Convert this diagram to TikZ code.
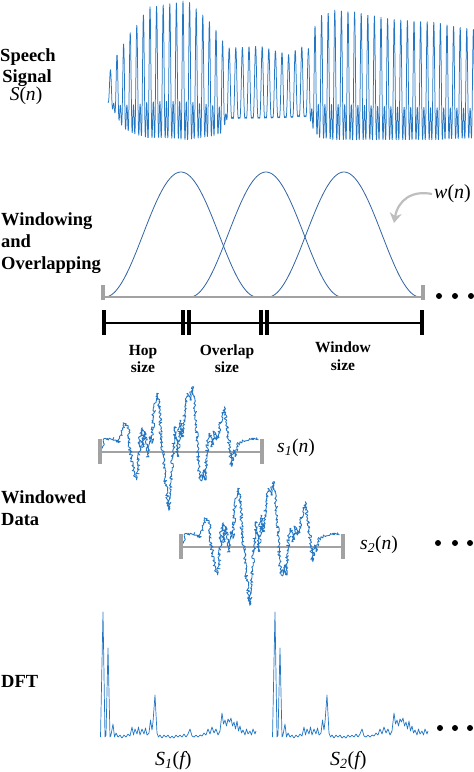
\documentclass[tikz,border=0pt]{standalone}
\usepackage{fontspec}
\setmainfont{Liberation Serif}
\usetikzlibrary{arrows.meta,decorations.pathmorphing}
\definecolor{sigblue}{RGB}{34,118,196}
\definecolor{winblue}{RGB}{50,100,165}
\definecolor{rulegray}{RGB}{162,162,162}
\definecolor{arrgray}{RGB}{190,190,190}
\tikzset{
  lab/.style={font=\bfseries\fontsize{18.5}{22}\selectfont, anchor=base west, inner sep=0pt},
  sublab/.style={font=\bfseries\fontsize{15.5}{18}\selectfont, anchor=base, inner sep=0pt},
  mathlab/.style={font=\fontsize{19.5}{22}\selectfont, anchor=base west, inner sep=0pt},
  sig/.style={draw=sigblue, line width=0.75pt, line join=round},
  win/.style={draw=winblue, line width=0.8pt},
  grayline/.style={draw=rulegray, line width=2pt},
  graytick/.style={draw=rulegray, line width=3.5pt},
  blackline/.style={draw=black, line width=2pt},
  blacktick/.style={draw=black, line width=3.5pt},
  bigdot/.style={circle, fill=black, inner sep=0pt, minimum size=6pt},
  declare function={
    ph(\x)=54.5454*mod(\x-110.4,6.6);
    wav(\t,\h)=(1+0.8*\h-cos(\t)-0.8*\h*cos(2*\t))/(2+0.76*\h);
  },
  noisepic/.pic={
    \pgfmathsetseed{11}
    \draw[sig, line width=0.85pt, decorate, decoration={random steps, segment length=1.1pt, amplitude=1.7pt}]
      (102.3,448.3) -- (105,438.3) -- (108.3,440) -- (113.3,438.3) -- (118.3,442.7) -- (121.7,433) -- (124.3,423.3) -- (128.3,426.7) -- (130,450) -- (131.7,456.7) -- (133.3,470) -- (136.7,480) -- (138.3,466.7) -- (140,436.7) -- (141.7,428.3) -- (143.3,446.7) -- (145,431.7) -- (147.7,456.7) -- (150,436.7) -- (151.7,443.3) -- (154.3,403.3) -- (156.7,393.3) -- (159,401.7) -- (161,436.7) -- (163.3,456.7) -- (165,476.7) -- (167.7,500) -- (169,510) -- (170.3,486.7) -- (173.3,450) -- (175,426.7) -- (177.7,456.7) -- (180,420) -- (182.3,436.7) -- (185,410) -- (187.7,393.3) -- (190,400) -- (192.3,386.7) -- (194.3,403.3) -- (196.7,436.7) -- (198.3,463.3) -- (200.3,480) -- (203.3,470) -- (205,480) -- (207.7,443.3) -- (210,433.3) -- (212.3,446.7) -- (214.3,431.7) -- (216.7,440) -- (219,433.3) -- (221.7,416.7) -- (224.3,406.7) -- (226.7,423.3) -- (228.3,436.7) -- (230,453.3) -- (231.7,466.7) -- (233.3,450) -- (235,456.7) -- (236.7,446.7) -- (240,441.7) -- (245,440.7) -- (250,439.3) -- (254.3,438.3) -- (258.3,440);
  },
  specpic/.pic={
    \draw[sig, line width=0.7pt]
      (100.5,737) -- (103,612) -- (105,737) -- (106,735) -- (108,648) -- (110,737) -- (111,735) -- (113,724) -- (114.5,737) -- (116,733) -- (118,737) -- (120,735) -- (122,738) -- (124,735) -- (126,737) -- (128,734) -- (130,736) -- (132,727) -- (133.5,735) -- (135,729) -- (137,734) -- (138.5,727) -- (140,735) -- (142,729) -- (144,734) -- (145.5,728) -- (147,735) -- (149,733) -- (150.5,720) -- (152,730) -- (153,722) -- (155,695) -- (157,733) -- (158.5,737) -- (160,735) -- (162,738) -- (164,735) -- (166,737) -- (168,735) -- (170,738) -- (172,736) -- (174,738) -- (176,735) -- (178,737) -- (180,735) -- (182,737) -- (184,734) -- (186,737) -- (188,734) -- (190,729) -- (192,736) -- (194,737) -- (196,735) -- (198,737) -- (200,735) -- (202,736) -- (204,733) -- (206,735) -- (208,729) -- (210,734) -- (212,727) -- (214,733) -- (216,729) -- (218,735) -- (220,731) -- (222,713) -- (223.5,724) -- (225,720) -- (226.5,726) -- (228,719) -- (229.5,722) -- (231,718) -- (232.5,726) -- (234,722) -- (235.5,729) -- (237,721) -- (238.5,731) -- (240,726) -- (241.5,733) -- (243,730) -- (245,735) -- (246.5,729) -- (248,734) -- (250,731) -- (251.5,735) -- (253,729) -- (255,734) -- (256,731);
  }
}
\begin{document}
\begin{tikzpicture}[x=1pt, y=-1pt]
\useasboundingbox (0,0) rectangle (474,772);

% ---------------- Speech signal ----------------
\node[lab, anchor=base] (speech) at (28,61) {Speech};
\node[lab, anchor=base] (signal) at (27,82) {Signal};
\node[mathlab, anchor=base] (sn) at (26,100) {{\itshape S}({\itshape n})};

\foreach \xa/\ta/\ba/\ha/\xb/\tb/\bb/\hb in {
  108/75/105/0.6/117/55/120/0.8,
  117/55/120/0.8/123/45/128/1,
  123/45/128/1/130/33/132/1,
  130/33/132/1/137/25/135/1,
  137/25/135/1/148/7/138/1,
  148/7/138/1/168/4/138/1,
  168/4/138/1/187/0/140/1,
  187/0/140/1/200/12/138/1,
  200/12/138/1/213/25/136/1,
  213/25/136/1/222/40/133/1,
  222/40/133/1/228/48/128/0.4,
  228/48/128/0.4/260/46/128/0.4,
  260/46/128/0.4/290/55/126/0.4,
  290/55/126/0.4/300/46/126/0.4,
  300/46/126/0.4/308/50/126/0.4,
  308/50/126/0.4/314/28/132/1,
  314/28/132/1/320/16/138/1,
  320/16/138/1/335/10/140/1,
  335/10/140/1/355/12/140/1,
  355/12/140/1/380/17/140/1,
  380/17/140/1/400/20/140/1,
  400/20/140/1/433/22/140/1,
  433/22/140/1/476/30/138/1}{
  \pgfmathtruncatemacro\ns{5*(\xb-\xa)+2}
  \draw[sig] plot[domain=\xa:\xb, samples=\ns, variable=\x]
    (\x, {\ta+(\tb-\ta)*(\x-\xa)/(\xb-\xa) + ((\ba+(\bb-\ba)*(\x-\xa)/(\xb-\xa))-(\ta+(\tb-\ta)*(\x-\xa)/(\xb-\xa)))*wav(ph(\x),\ha+(\hb-\ha)*(\x-\xa)/(\xb-\xa))});
}

% ---------------- Windowing ----------------
\node[lab] (win1) at (1,225) {Windowing};
\node[lab] (win2) at (1,247) {and};
\node[lab] (win3) at (1,269) {Overlapping};

\foreach \s in {105,190,268}{
  \draw[win] plot[domain=0:1, samples=90, variable=\t] ({\s+152*\t}, {297-125*(0.5-0.5*cos(360*\t))});
}

\coordinate (ga) at (103,297);
\coordinate (gb) at (423,297);
\draw[grayline] (ga) -- (gb);
\draw[graytick] (103,285) -- (103,300);
\draw[graytick] (423,285) -- (423,300);

\node[mathlab, font=\fontsize{20}{22}\selectfont] (wn) at (434,198) {{\itshape w}({\itshape n})};
\coordinate (warr) at (432,194);
\coordinate (wtip) at (394,223);
\draw[arrgray, line width=2.2pt, -{Stealth[length=10pt, width=12pt]}] (warr) .. controls (412,190) and (398,200) .. (wtip);

\node[bigdot] (dA1) at (439,296) {};
\node[bigdot] (dA2) at (455,296) {};
\node[bigdot] (dA3) at (471,296) {};

\coordinate (ba) at (104,323);
\coordinate (bb) at (422,323);
\draw[blackline] (ba) -- (bb);
\foreach \tx in {104,183,189,261,267,422}{
  \draw[blacktick] (\tx,310) -- (\tx,335);
}

\node[sublab] (hopa) at (143,355) {Hop};
\node[sublab] (hopb) at (143,372) {size};
\node[sublab] (ovla) at (227,355) {Overlap};
\node[sublab] (ovlb) at (227,372) {size};
\node[sublab] (wina) at (343,352) {Window};
\node[sublab] (winb) at (343,370) {size};

% ---------------- Windowed data ----------------
\node[lab] (wd1) at (1,503) {Windowed};
\node[lab] (wd2) at (1,525) {Data};

\coordinate (s1a) at (100,452);
\coordinate (s1b) at (262,452);
\draw[grayline] (s1a) -- (s1b);
\draw[graytick] (100,439) -- (100,464);
\draw[graytick] (262,439) -- (262,464);
\pic at (0,0) {noisepic};
\node[mathlab] (s1n) at (277,452) {{\itshape s}\textsubscript{\itshape 1}({\itshape n})};

\coordinate (s2a) at (181,547);
\coordinate (s2b) at (343,547);
\draw[grayline] (s2a) -- (s2b);
\draw[graytick] (181,534) -- (181,559);
\draw[graytick] (343,534) -- (343,559);
\pic at (81,95) {noisepic};
\node[mathlab] (s2n) at (360,549) {{\itshape s}\textsubscript{\itshape 2}({\itshape n})};

\node[bigdot] (dB1) at (438,543) {};
\node[bigdot] (dB2) at (455,543) {};
\node[bigdot] (dB3) at (470,543) {};

% ---------------- DFT ----------------
\node[lab] (dft) at (1,687) {DFT};
\pic at (0,0) {specpic};
\pic at (172,0) {specpic};
\node[mathlab, font=\fontsize{20}{22}\selectfont] (S1f) at (155,765) {{\itshape S}\textsubscript{\itshape 1}({\itshape f})};
\node[mathlab, font=\fontsize{20}{22}\selectfont] (S2f) at (330,765) {{\itshape S}\textsubscript{\itshape 2}({\itshape f})};

\node[bigdot] (dC1) at (440,728) {};
\node[bigdot] (dC2) at (455,728) {};
\node[bigdot] (dC3) at (470,728) {};
\end{tikzpicture}
\end{document}
